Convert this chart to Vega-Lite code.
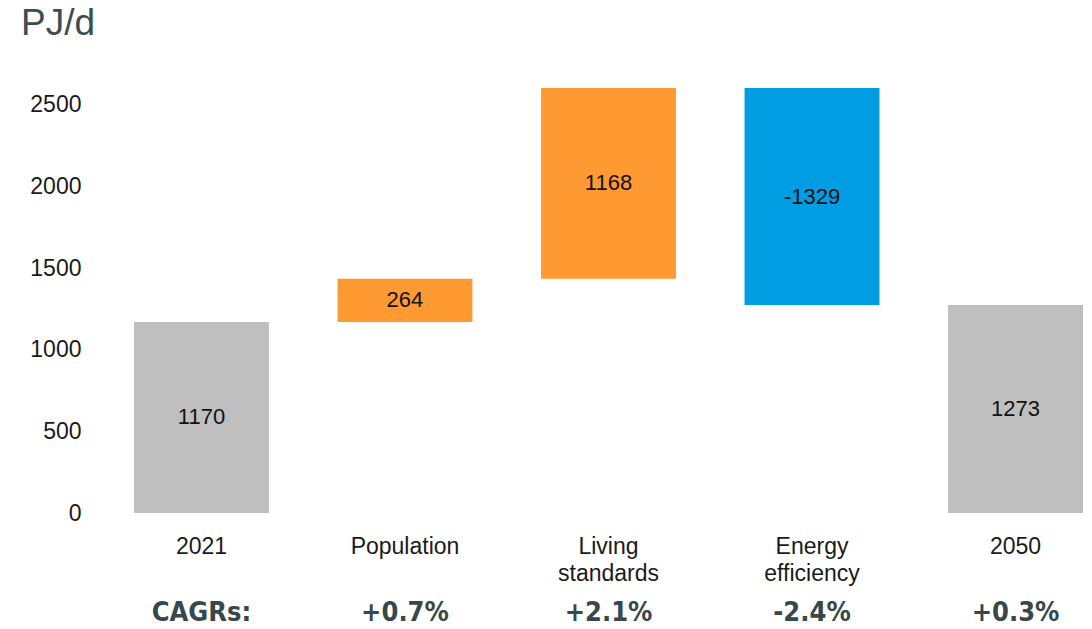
{
  "$schema": "https://vega.github.io/schema/vega-lite/v6.json",
  "autosize": "none",
  "width": 949,
  "height": 441,
  "padding": {"left": 134, "top": 72, "right": 9, "bottom": 116},
  "background": "white",
  "config": {"view": {"stroke": null}, "font": "Liberation Sans"},
  "title": {
    "text": "PJ/d",
    "anchor": "start",
    "frame": "group",
    "dx": -113,
    "offset": 0,
    "baseline": "alphabetic",
    "fontSize": 37,
    "fontWeight": "normal",
    "color": "#3d4d4e",
    "font": "Liberation Sans"
  },
  "data": {
    "values": [
      {"stage": "2021", "start": 0, "end": 1170, "label": "1170", "kind": "total", "cagr": "CAGRs:"},
      {"stage": "Population", "start": 1170, "end": 1434, "label": "264", "kind": "increase", "cagr": "+0.7%"},
      {"stage": "Living standards", "start": 1434, "end": 2602, "label": "1168", "kind": "increase", "cagr": "+2.1%"},
      {"stage": "Energy efficiency", "start": 2602, "end": 1273, "label": "-1329", "kind": "decrease", "cagr": "-2.4%"},
      {"stage": "2050", "start": 0, "end": 1273, "label": "1273", "kind": "total", "cagr": "+0.3%"}
    ]
  },
  "encoding": {
    "x": {
      "field": "stage",
      "type": "nominal",
      "sort": null,
      "scale": {"paddingInner": 0.337, "paddingOuter": 0},
      "axis": {
        "title": null,
        "orient": "bottom",
        "ticks": false,
        "domain": false,
        "labelAngle": 0,
        "labelExpr": "split(datum.label, ' ')",
        "labelFontSize": 23,
        "labelLineHeight": 27,
        "labelColor": "#1a1a1a",
        "labelPadding": 22,
        "labelBaseline": "top"
      }
    }
  },
  "layer": [
    {
      "mark": {"type": "bar"},
      "encoding": {
        "y": {
          "field": "start",
          "type": "quantitative",
          "scale": {"domain": [0, 2700], "nice": false},
          "axis": {
            "title": null,
            "values": [0, 500, 1000, 1500, 2000, 2500],
            "format": "d",
            "grid": false,
            "ticks": false,
            "domain": false,
            "labelFontSize": 23,
            "labelColor": "#1a1a1a",
            "labelPadding": 53
          }
        },
        "y2": {"field": "end"},
        "color": {
          "field": "kind",
          "type": "nominal",
          "scale": {"domain": ["total", "increase", "decrease"], "range": ["#bfbfbf", "#fe9a31", "#009de3"]},
          "legend": null
        }
      }
    },
    {
      "transform": [{"calculate": "(datum.start + datum.end) / 2", "as": "mid"}],
      "mark": {"type": "text", "fontSize": 22, "color": "#111111", "baseline": "middle"},
      "encoding": {
        "y": {"field": "mid", "type": "quantitative"},
        "text": {"field": "label"}
      }
    },
    {
      "mark": {"type": "text", "fontSize": 27, "fontWeight": "bold", "font": "DejaVu Sans Condensed, Liberation Sans", "color": "#37474a", "baseline": "middle"},
      "encoding": {
        "y": {"datum": -613, "type": "quantitative"},
        "text": {"field": "cagr"}
      }
    }
  ]
}
